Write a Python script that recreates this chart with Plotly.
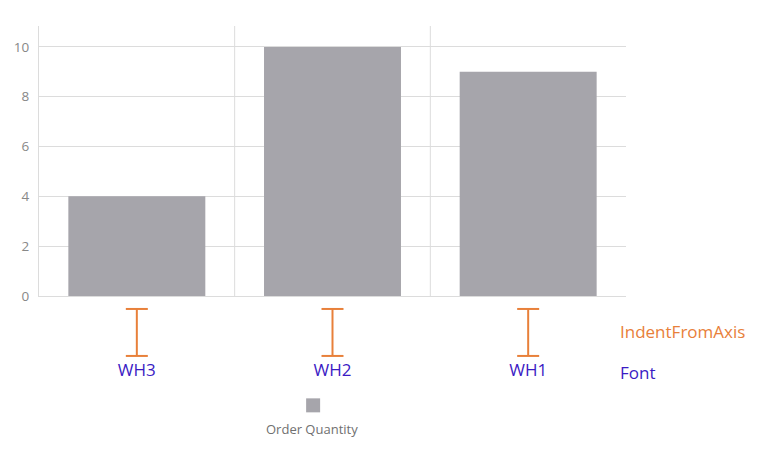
import plotly.graph_objects as go

# datos
almacenes = ["WH3", "WH2", "WH1"]
cantidades = [4, 10, 9]
serie = "Order Quantity"

gris_barra = "#a6a5ab"
naranja = "#e8803a"
indigo = "#3b1bc4"
linea = "#dcdcdc"

fig = go.Figure(go.Bar(x=almacenes, y=cantidades, name=serie,
                       marker=dict(color=gris_barra, line=dict(width=0)),
                       width=0.7, showlegend=False))

# separadores verticales entre categorias
for i in range(1, len(almacenes)):
    fig.add_shape(type="line", xref="x", yref="paper", x0=i - 0.5, x1=i - 0.5,
                  y0=0, y1=1, line=dict(color=linea, width=1), layer="below")

# marcas "I" de IndentFromAxis bajo cada etiqueta
y_arr, y_abj = -0.048, -0.222
for c in almacenes:
    fig.add_shape(type="line", xref="x", xsizemode="pixel", xanchor=c, x0=0, x1=0,
                  yref="paper", y0=y_arr, y1=y_abj, line=dict(color=naranja, width=2))
    for yy in (y_arr, y_abj):
        fig.add_shape(type="line", xref="x", xsizemode="pixel", xanchor=c, x0=-11, x1=11,
                      yref="paper", y0=yy, y1=yy, line=dict(color=naranja, width=2))

fig.add_annotation(text="IndentFromAxis", xref="paper", yref="paper", x=0.987, y=-0.133,
                   xanchor="left", yanchor="middle", showarrow=False,
                   font=dict(color=naranja, size=17, family="Open Sans"))
fig.add_annotation(text="Font", xref="paper", yref="paper", x=0.987, y=-0.283,
                   xanchor="left", yanchor="middle", showarrow=False,
                   font=dict(color=indigo, size=17, family="Open Sans"))

# leyenda dibujada a mano (simbolo encima del texto)
fig.add_shape(type="rect", xref="paper", yref="paper", xsizemode="pixel", ysizemode="pixel",
              xanchor=0.467, yanchor=-0.405, x0=-7, x1=7, y0=-7, y1=7,
              fillcolor=gris_barra, line=dict(width=0))
fig.add_annotation(text=serie, xref="paper", yref="paper", x=0.465, y=-0.493,
                   xanchor="center", yanchor="middle", showarrow=False,
                   font=dict(color="#707070", size=13))

# la pagina tiene 8px de margen, se compensa en los margenes
fig.update_layout(
    width=771, height=451,
    margin=dict(l=31, r=153, t=18, b=163),
    plot_bgcolor="white", paper_bgcolor="white",
    font=dict(family="Open Sans", color="#8a8a8a", size=13),
    bargap=0.3,
    xaxis=dict(showgrid=False, showline=True, linecolor=linea, linewidth=1,
               ticks="", ticklabelstandoff=59, automargin=False,
               tickfont=dict(color=indigo, size=17)),
    yaxis=dict(range=[0, 10.84], dtick=2, showgrid=True, gridcolor=linea, gridwidth=1,
               showline=True, linecolor=linea, zeroline=False, ticks="", automargin=False,
               ticklabelstandoff=6, tickfont=dict(color="#888888", size=13.5)),
)

fig.write_html("out.html")
